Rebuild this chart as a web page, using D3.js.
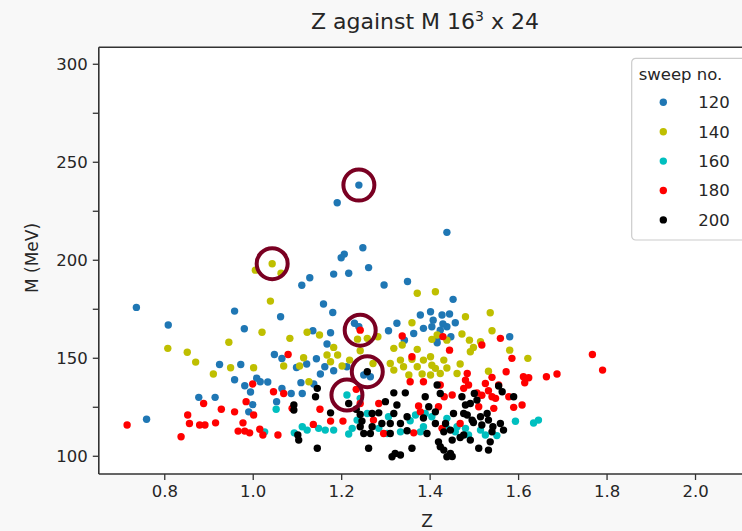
<!DOCTYPE html>
<html>
<head>
<meta charset="utf-8">
<script src="https://cdn.jsdelivr.net/npm/d3@7"></script>
<style>
  html, body { margin: 0; padding: 0; background: #f8f8f8; }
  svg { display: block; font-family: "DejaVu Sans", sans-serif; }
</style>
</head>
<body>
<svg id="chart" width="742" height="531"></svg>
<script>
// Sweep numbers and their marker colours
const sweepLabels = ["120", "140", "160", "180", "200"];
const sweepColors = ["#1f77b4", "#bfbf00", "#00bfbf", "#ff0000", "#000000"];

// [Z, M (MeV)] for each sweep
const sweep120 = [[1.240,238.1],[1.191,229.1],[1.439,214.0],[1.249,206.1],[1.207,202.9],[1.200,201.0],[1.262,196.0],[1.217,193.1],[1.183,192.7],[1.129,190.8],[1.111,187.0],[1.297,187.1],[1.350,188.9],[1.453,179.8],[1.160,177.4],[1.181,173.1],[1.063,170.9],[0.737,175.7],[0.809,166.7],[0.959,173.8],[0.981,164.8],[1.136,163.8],[1.176,162.8],[1.230,167.6],[1.240,165.8],[1.307,163.8],[1.326,167.6],[1.364,162.4],[1.386,165.0],[1.379,171.8],[1.402,173.5],[1.428,171.8],[1.445,172.3],[1.408,169.2],[1.439,165.8],[1.458,167.9],[1.430,167.2],[1.405,165.8],[1.424,164.1],[1.417,159.9],[1.448,160.7],[1.343,159.0],[1.168,157.0],[1.417,157.7],[1.581,160.7],[1.049,151.7],[1.066,149.6],[1.144,149.5],[1.099,145.0],[1.122,146.8],[1.163,145.4],[1.153,141.7],[1.183,143.4],[1.213,145.4],[1.138,136.6],[1.109,137.3],[1.112,131.8],[1.034,137.6],[1.009,139.6],[1.017,137.8],[0.982,135.7],[0.959,138.8],[1.066,134.3],[1.251,141.2],[1.266,140.3],[1.000,126.1],[0.991,122.4],[0.995,132.5],[0.925,146.6],[0.973,146.6],[0.878,129.8],[0.915,129.8],[0.760,118.6],[1.054,127.6],[1.087,131.8]];
const sweep140 = [[1.044,198.0],[1.006,194.7],[1.064,193.1],[1.040,178.9],[1.021,163.0],[1.084,159.9],[1.123,163.0],[0.946,157.9],[0.808,154.8],[0.852,152.8],[0.871,147.8],[0.911,141.7],[0.950,144.9],[1.002,144.9],[1.070,145.8],[1.115,150.0],[1.106,145.8],[1.127,137.8],[1.151,161.6],[1.183,155.3],[1.192,151.4],[1.219,148.8],[1.168,151.4],[1.176,148.0],[1.202,145.8],[1.237,159.5],[1.259,159.9],[1.243,153.6],[1.272,147.1],[1.283,160.7],[1.372,182.9],[1.413,183.7],[1.360,167.9],[1.405,159.4],[1.439,159.0],[1.319,154.8],[1.338,156.5],[1.372,154.3],[1.402,150.5],[1.432,148.8],[1.360,149.2],[1.334,148.8],[1.311,147.1],[1.319,143.7],[1.341,145.4],[1.372,145.4],[1.405,146.2],[1.439,144.8],[1.424,142.0],[1.383,141.7],[1.353,141.2],[1.537,173.0],[1.481,170.9],[1.541,163.8],[1.473,162.1],[1.490,159.0],[1.515,158.2],[1.499,155.3],[1.492,153.1],[1.581,153.9],[1.622,149.7],[1.469,146.8],[1.462,142.0],[1.533,143.1],[1.417,161.6],[1.386,148.8],[1.413,144.6],[1.402,141.2]];
const sweep160 = [[1.053,123.7],[1.027,112.2],[1.094,111.7],[1.112,114.8],[1.123,113.1],[1.213,131.0],[1.149,114.0],[1.164,113.1],[1.183,113.1],[1.217,111.1],[1.236,118.2],[1.259,121.6],[1.243,129.3],[1.307,119.9],[1.304,111.4],[1.356,117.9],[1.386,114.8],[1.405,119.9],[1.439,119.1],[1.594,117.6],[1.635,116.7],[1.646,118.2],[1.462,114.8],[1.515,113.1],[1.552,110.3],[1.481,114.0],[1.526,110.6],[1.225,114.0],[1.285,114.0],[1.334,112.2],[1.368,120.8],[1.379,112.2],[1.390,121.6],[1.439,114.0],[1.458,112.2],[1.488,110.6]];
const sweep180 = [[1.080,151.7],[1.000,136.6],[0.716,115.7],[0.838,109.7],[0.853,120.8],[0.857,116.5],[0.880,115.7],[0.892,115.7],[0.916,116.8],[0.889,126.7],[0.929,123.7],[0.959,122.4],[0.985,127.6],[0.978,116.8],[0.967,112.6],[0.982,112.6],[0.993,111.7],[1.016,113.5],[1.023,110.6],[1.057,110.6],[1.047,132.7],[1.070,131.8],[1.089,124.2],[1.243,164.1],[1.338,161.1],[1.430,160.8],[1.360,150.5],[1.356,137.8],[1.386,137.8],[1.234,133.9],[1.243,126.7],[1.002,120.8],[1.152,123.7],[1.176,117.7],[1.204,117.7],[1.137,116.0],[1.296,111.4],[1.364,111.7],[1.420,125.0],[1.428,114.0],[1.379,122.4],[1.273,118.2],[1.445,153.9],[1.518,156.5],[1.560,159.9],[1.586,149.7],[1.573,142.9],[1.541,140.0],[1.485,142.0],[1.481,138.6],[1.612,140.3],[1.624,139.8],[1.615,137.2],[1.664,140.3],[1.688,141.7],[1.768,151.7],[1.791,143.7],[1.477,134.4],[1.507,132.1],[1.533,133.2],[1.541,130.1],[1.556,136.1],[1.579,130.1],[1.609,125.9],[1.590,124.7],[1.545,124.2],[1.511,125.0],[1.433,130.1],[1.469,116.5],[1.424,136.1],[1.451,131.0],[1.488,136.1],[1.526,136.9],[1.549,129.3],[1.285,126.7],[1.375,125.4],[1.518,130.9]];
const sweep200 = [[1.259,142.9],[1.217,126.7],[1.146,134.4],[1.142,130.1],[1.093,125.9],[1.093,123.3],[1.176,121.9],[1.234,123.7],[1.243,114.8],[1.251,111.4],[1.285,121.9],[1.292,116.5],[1.270,114.8],[1.319,132.1],[1.345,132.1],[1.326,125.9],[1.319,121.6],[1.334,116.5],[1.349,112.8],[1.311,111.4],[1.390,130.1],[1.398,125.0],[1.417,136.1],[1.424,131.8],[1.413,122.4],[1.436,116.5],[1.102,110.6],[1.104,108.0],[1.146,103.8],[1.262,103.8],[1.322,101.2],[1.334,100.4],[1.360,103.8],[1.424,104.6],[1.439,99.5],[1.386,119.3],[1.394,111.4],[1.420,107.1],[1.432,102.9],[1.447,101.2],[1.451,108.0],[1.447,113.1],[1.454,121.6],[1.473,130.1],[1.481,125.9],[1.492,126.7],[1.501,131.8],[1.485,120.8],[1.496,118.2],[1.515,119.9],[1.533,118.2],[1.543,114.8],[1.560,116.5],[1.567,113.1],[1.477,110.6],[1.492,108.0],[1.537,107.1],[1.533,102.9],[1.511,103.8],[1.590,130.1],[1.564,132.7],[1.518,115.7],[1.541,112.2],[1.247,117.7],[1.266,111.4],[1.311,116.5],[1.349,119.9],[1.413,116.5],[1.432,112.2],[1.451,99.6],[1.469,109.3],[1.477,121.6],[1.499,117.0],[1.530,121.6],[1.507,128.4],[1.315,99.5],[1.300,127.6],[1.243,121.1],[1.270,121.6],[1.556,135.6]];

// Points ringed for attention
const highlighted = [[1.240,238.1],[1.044,198.0],[1.243,164.1],[1.259,142.9],[1.213,131.0]];

// Axis ticks
const xTicks = [0.8, 1.0, 1.2, 1.4, 1.6, 1.8, 2.0];
const yTicks = [100, 125, 150, 175, 200, 225, 250, 275, 300];
const yTickLabels = [100, 150, 200, 250, 300];

const series = [sweep120, sweep140, sweep160, sweep180, sweep200];

const svg = d3.select("#chart");
const plot = { left: 98.8, right: 745, top: 47.3, bottom: 474 };

const x = d3.scaleLinear().domain([0.652, 2.113]).range([plot.left, plot.right]);
const y = d3.scaleLinear().domain([90.7, 308.4]).range([plot.bottom, plot.top]);

// Axes background
svg.append("rect")
  .attr("x", plot.left).attr("y", plot.top)
  .attr("width", plot.right - plot.left).attr("height", plot.bottom - plot.top)
  .attr("fill", "#ffffff");

// Scatter points, one layer per sweep
series.forEach((pts, i) => {
  svg.append("g").selectAll("circle")
    .data(pts)
    .join("circle")
    .attr("cx", d => x(d[0]))
    .attr("cy", d => y(d[1]))
    .attr("r", 3.7)
    .attr("fill", sweepColors[i]);
});

// Rings around selected points
svg.append("g").selectAll("circle")
  .data(highlighted)
  .join("circle")
  .attr("cx", d => x(d[0]))
  .attr("cy", d => y(d[1]))
  .attr("r", 15.5)
  .attr("fill", "none")
  .attr("stroke", "#7a0022")
  .attr("stroke-width", 4);

// Axes
const xAxis = d3.axisBottom(x).tickValues(xTicks).tickSize(6).tickPadding(5)
  .tickFormat(d3.format(".1f"));
const yAxis = d3.axisLeft(y).tickValues(yTicks).tickSize(6).tickPadding(5)
  .tickFormat(d => yTickLabels.includes(d) ? d : "");

const gx = svg.append("g").attr("transform", `translate(0,${plot.bottom})`).call(xAxis);
const gy = svg.append("g").attr("transform", `translate(${plot.left},0)`).call(yAxis);
[gx, gy].forEach(g => {
  g.select(".domain").remove();
  g.selectAll(".tick line").attr("stroke", "#333").attr("stroke-width", 1.3);
  g.selectAll(".tick text").attr("fill", "#262626")
    .style("font-family", "'DejaVu Sans', sans-serif").style("font-size", "16.5px");
});

// Spines: left, bottom and top
svg.append("line").attr("x1", plot.left).attr("x2", plot.left)
  .attr("y1", plot.top).attr("y2", plot.bottom).attr("stroke", "#333").attr("stroke-width", 1.6);
svg.append("line").attr("x1", plot.left).attr("x2", plot.right)
  .attr("y1", plot.bottom).attr("y2", plot.bottom).attr("stroke", "#333").attr("stroke-width", 1.6);
svg.append("line").attr("x1", plot.left).attr("x2", plot.right)
  .attr("y1", plot.top).attr("y2", plot.top).attr("stroke", "#333").attr("stroke-width", 1.6);

// Title
const title = svg.append("text")
  .attr("x", 425).attr("y", 29)
  .attr("text-anchor", "middle")
  .attr("fill", "#262626")
  .style("font-size", "22px");
title.append("tspan").text("Z against M 16");
title.append("tspan").attr("dy", -8).style("font-size", "14px").text("3");
title.append("tspan").attr("dy", 8).text(" x 24");

// Axis labels
svg.append("text").attr("x", 427).attr("y", 527)
  .attr("text-anchor", "middle").attr("fill", "#262626")
  .style("font-size", "17px").text("Z");
svg.append("text")
  .attr("transform", "translate(38,258) rotate(-90)")
  .attr("text-anchor", "middle").attr("fill", "#262626")
  .style("font-size", "17px").text("M (MeV)");

// Legend
const legend = svg.append("g").attr("transform", "translate(631.7,58.3)");
legend.append("rect")
  .attr("width", 130).attr("height", 181.7).attr("rx", 4)
  .attr("fill", "#ffffff").attr("fill-opacity", 0.9)
  .attr("stroke", "#cccccc").attr("stroke-width", 1.2);
legend.append("text").attr("x", 7).attr("y", 22)
  .attr("fill", "#262626").style("font-size", "16.5px").text("sweep no.");
sweepLabels.forEach((lab, i) => {
  const cy = 44 + i * 29.4;
  legend.append("circle").attr("cx", 31.6).attr("cy", cy).attr("r", 3.7)
    .attr("fill", sweepColors[i]);
  legend.append("text").attr("x", 66.5).attr("y", cy + 6)
    .attr("fill", "#262626").style("font-size", "16.5px").text(lab);
});
</script>
</body>
</html>
